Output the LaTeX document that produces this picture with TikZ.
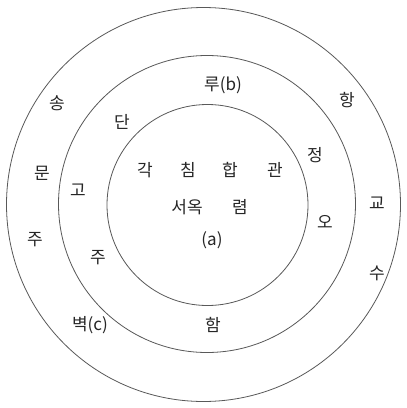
\documentclass[tikz,border=0pt]{standalone}
\usepackage{fontspec}
\newfontfamily\kr{Noto Sans CJK KR}
\begin{document}
\begin{tikzpicture}[x=1pt,y=-1pt,
  ring/.style={draw=black!65,line width=0.8pt},
  lbl/.style={font=\kr\fontsize{17}{20}\selectfont,text=black!85,inner sep=0pt}]
\useasboundingbox (0,0) rectangle (407,408);
\fill[white] (0,0) rectangle (407,408);
\node[ring,circle,minimum size=394pt,inner sep=0pt] (outer) at (203.5,204.5) {};
\node[ring,circle,minimum size=297pt,inner sep=0pt] (middle) at (207,204) {};
\node[ring,circle,minimum size=201pt,inner sep=0pt] (inner) at (207.5,205) {};
% inner
\node[lbl] (t1) at (145,170) {각};
\node[lbl] (t2) at (188,170) {침};
\node[lbl] (t3) at (230,170) {합};
\node[lbl] (t4) at (275,170) {관};
\node[lbl] (t5) at (187,207) {서옥};
\node[lbl] (t6) at (240,207) {렴};
\node[lbl] (ta) at (212,240) {(a)};
% middle ring
\node[lbl] (m1) at (223,85) {루(b)};
\node[lbl] (m2) at (122,122) {단};
\node[lbl] (m3) at (315,155) {정};
\node[lbl] (m4) at (78,190) {고};
\node[lbl] (m5) at (325,222) {오};
\node[lbl] (m6) at (98,258) {주};
\node[lbl] (m7) at (213,325) {함};
% outer ring
\node[lbl] (o1) at (57,103) {송};
\node[lbl] (o2) at (347,100) {항};
\node[lbl] (o3) at (42,173) {문};
\node[lbl] (o4) at (377,203) {교};
\node[lbl] (o5) at (35,240) {주};
\node[lbl] (o6) at (377,273) {수};
\node[lbl] (o7) at (90,325) {벽(c)};
\end{tikzpicture}
\end{document}
